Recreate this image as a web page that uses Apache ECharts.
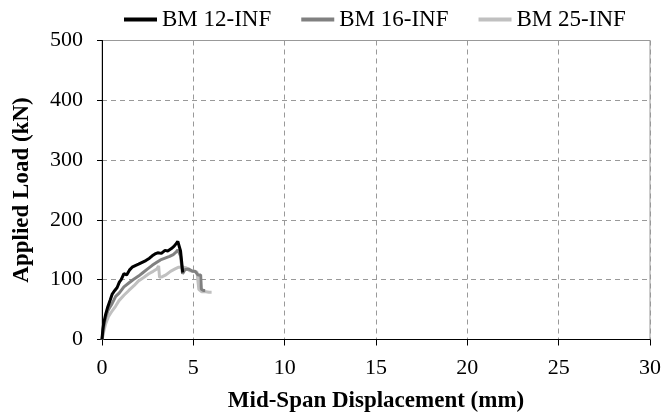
<!DOCTYPE html>
<html>
<head>
<meta charset="utf-8">
<script src="https://cdn.jsdelivr.net/npm/echarts@6/dist/echarts.min.js"></script>
<style>html,body{margin:0;padding:0;background:#fff;}#c{width:661px;height:413px;}</style>
</head>
<body>
<div id="c"></div>
<script>
var seriesNames = ['BM 12-INF', 'BM 16-INF', 'BM 25-INF'];

var disp12 = [0, 0.05, 0.1, 0.2, 0.3, 0.45, 0.56, 0.7, 0.83, 0.95, 1.05, 1.2, 1.35, 1.5, 1.65, 1.85, 2.0, 2.2, 2.4, 2.6, 2.75, 2.9, 3.05, 3.25, 3.45, 3.6, 3.8, 3.95, 4.05, 4.15, 4.22, 4.3, 4.42];
var load12 = [0, 18, 28, 42, 53, 66, 76, 82, 87, 96, 100, 110, 108, 116, 121, 124, 126, 129, 132, 136, 140, 143, 145, 144, 149, 148, 152, 156, 160, 164, 162, 148, 112];

var disp16 = [0, 0.05, 0.1, 0.2, 0.35, 0.55, 0.75, 0.95, 1.2, 1.45, 1.7, 2.0, 2.25, 2.5, 2.75, 3.0, 3.2, 3.45, 3.7, 3.9, 4.05, 4.15, 4.23, 4.3, 4.41, 4.55, 4.75, 4.95, 5.1, 5.25, 5.4, 5.44, 5.55, 5.65];
var load16 = [0, 12, 22, 37, 50, 60, 72, 78, 88, 94, 100, 106, 112, 118, 124, 129, 133, 136, 139, 142, 146, 150, 152, 140, 110, 117, 118, 114, 114, 108, 108, 84, 82, 82];

var disp25 = [0, 0.05, 0.1, 0.2, 0.35, 0.56, 0.75, 0.93, 1.2, 1.47, 1.75, 2.0, 2.3, 2.56, 2.8, 3.0, 3.1, 3.15, 3.3, 3.5, 3.75, 4.0, 4.2, 4.45, 4.6, 4.8, 5.0, 5.2, 5.3, 5.45, 5.7, 5.85, 6.0];
var load25 = [0, 6, 14, 26, 38, 48, 56, 65, 74, 82, 90, 98, 104, 110, 114, 118, 123, 104, 105, 108, 114, 118, 121, 121, 120, 115, 114, 113, 84, 80, 80, 79, 79];

var xTicks = [0, 5, 10, 15, 20, 25, 30];
var yTicks = [0, 100, 200, 300, 400, 500];

function pairs(xs, ys) { return xs.map(function (x, i) { return [x, ys[i]]; }); }

var serif = '"Liberation Serif", "Times New Roman", serif';
var colors = ['#000000', '#808080', '#c0c0c0'];
var dataSets = [pairs(disp12, load12), pairs(disp16, load16), pairs(disp25, load25)];

var chart = echarts.init(document.getElementById('c'), null, {renderer: 'canvas'});
chart.setOption({
  animation: false,
  backgroundColor: '#ffffff',
  grid: {left: 102, right: 11, top: 40.5, bottom: 73.5, containLabel: false, outerBoundsMode: 'none',
         show: true, borderColor: '#999', borderWidth: 1, backgroundColor: 'transparent'},
  legend: {
    data: seriesNames.map(function (n) { return {name: n, icon: 'rect'}; }),
    left: 119, top: 3,
    itemWidth: 33, itemHeight: 4, itemGap: 30,
    textStyle: {fontFamily: serif, fontSize: 23, color: '#000'}
  },
  xAxis: {
    type: 'value', min: xTicks[0], max: xTicks[xTicks.length - 1], interval: 5,
    name: 'Mid-Span Displacement (mm)', nameLocation: 'middle', nameGap: 50,
    nameTextStyle: {fontFamily: serif, fontSize: 23, fontWeight: 'bold', color: '#000'},
    axisLine: {show: true, lineStyle: {color: '#000', width: 1}},
    axisTick: {show: true, inside: false, length: 6, lineStyle: {color: '#000'}},
    axisLabel: {fontFamily: serif, fontSize: 22, color: '#000', margin: 18},
    splitLine: {show: true, lineStyle: {color: '#999', type: [5, 4], width: 1}}
  },
  yAxis: {
    type: 'value', min: yTicks[0], max: yTicks[yTicks.length - 1], interval: 100,
    name: 'Applied Load (kN)', nameLocation: 'middle', nameGap: 68,
    nameTextStyle: {fontFamily: serif, fontSize: 23, fontWeight: 'bold', color: '#000'},
    axisLine: {show: true, lineStyle: {color: '#000', width: 1}},
    axisTick: {show: true, inside: false, length: 5, lineStyle: {color: '#000'}},
    axisLabel: {fontFamily: serif, fontSize: 22, color: '#000', margin: 19},
    splitLine: {show: true, lineStyle: {color: '#999', type: [5, 4], width: 1}}
  },
  series: seriesNames.map(function (n, i) {
    return {
      name: n, type: 'line', data: dataSets[i],
      symbol: 'none', showSymbol: false, smooth: false,
      z: 5 - i,
      lineStyle: {color: colors[i], width: 3},
      itemStyle: {color: colors[i]}
    };
  })
});
</script>
</body>
</html>
